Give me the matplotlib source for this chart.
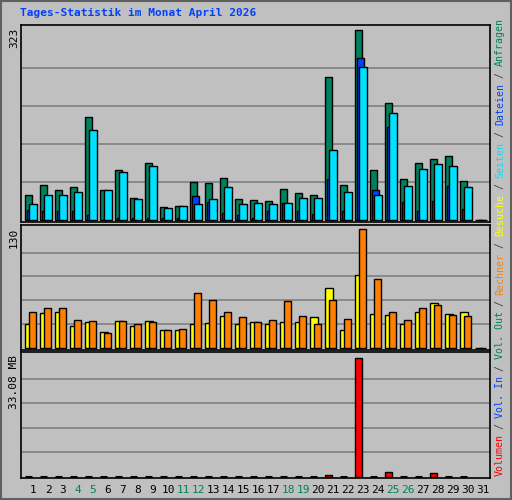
import matplotlib
matplotlib.use("Agg")
import matplotlib.pyplot as plt
import numpy as np

days = list(range(1, 32))
anfragen = [42,59,50,55,175,50,84,37,96,21,23,64,62,70,35,33,32,52,45,42,243,59,322,84,199,69,96,104,109,65,0]
dateien  = [17,14,15,14,8,0,3,3,3,3,3,40,30,12,8,3,15,28,15,10,69,15,275,50,158,30,14,32,57,18,0]
seiten   = [27,42,42,47,153,50,81,35,92,20,23,26,35,55,26,28,26,28,37,37,118,47,260,42,182,57,86,94,92,55,0]
besuche  = [26,38,39,24,28,18,29,24,30,20,20,26,27,35,26,28,26,28,28,34,65,20,80,37,36,26,39,49,37,39,0]
rechner  = [39,44,44,31,29,17,29,26,28,20,21,60,52,39,34,28,31,51,35,26,52,32,130,75,39,31,44,47,36,35,0]
volumen  = [0,0,0,0,0,0,0,0,0,0,0,0,0,0,0,0,0,0,0,0,0.63,0,32.0,0,1.25,0,0,1.0,0,0,0]
weekend = {4,5,11,12,18,19,25,26}
max_hits, max_visits, max_vol = 323, 130, 33.08

BG = "#c0c0c0"
GREEN, BLUE, CYAN = "#00805c", "#0040ff", "#00e0ff"
YEL, ORA, RED = "#ffff00", "#ff8000", "#ff0000"
MONO = "DejaVu Sans Mono"

fig = plt.figure(figsize=(5.12, 5.0), dpi=100, facecolor=BG)
W, H = 512, 500
def ax_at(top, bot):
    a = fig.add_axes([21/W, 1-bot/H, (490-21)/W, (bot-top)/H])
    a.set_facecolor(BG)
    a.set_xlim(0.2, 0.2 + 469/15)
    a.set_xticks([]); a.set_yticks([])
    for s in a.spines.values():
        s.set_color("black"); s.set_linewidth(1.2)
    return a

x = np.array(days, dtype=float)
kw = dict(align="edge", edgecolor="black", linewidth=1.0)

a1 = ax_at(25, 222)
a1.set_ylim(-4, max_hits*1.025)
for k in range(1, 5):
    a1.axhline(max_hits*k/5, color="#808080", lw=1.2, zorder=0)
a1.bar(x-0.53, anfragen, 0.48, color=GREEN, **kw)
a1.bar(x-0.40, dateien, 0.47, color=BLUE, **kw)
a1.bar(x-0.25, seiten, 0.5, color=CYAN, **kw)

a2 = ax_at(225, 350)
a2.set_ylim(-2, max_visits*1.03)
for k in range(1, 5):
    a2.axhline(max_visits*k/5, color="#808080", lw=1.2, zorder=0)
a2.bar(x-0.53, besuche, 0.5, color=YEL, **kw)
a2.bar(x-0.27, rechner, 0.5, color=ORA, **kw)

a3 = ax_at(352, 478)
a3.set_ylim(-0.3, max_vol*1.02)
for k in range(1, 5):
    a3.axhline(max_vol*k/5, color="#808080", lw=1.2, zorder=0)
for d, v in zip(days[:30], volumen[:30]):
    if v > 0:
        a3.bar(d-0.53, v, 0.48, color=RED, **kw)
    else:
        a3.plot([d-0.53, d-0.05], [0.05, 0.05], color="black", lw=2.2, solid_capstyle="butt")

# x labels
for d in days:
    fig.text((33 + (d-1)*15)/W, 1-490/H, str(d), ha="center", va="center",
             family=MONO, fontsize=8, color=GREEN if d in weekend else "black")

# left labels
fig.text(14/W, 1-28/H, str(max_hits), rotation=90, ha="center", va="top", family=MONO, fontsize=8)
fig.text(14/W, 1-228/H, str(max_visits), rotation=90, ha="center", va="top", family=MONO, fontsize=8)
fig.text(14/W, 1-355/H, "%.2f MB" % max_vol, rotation=90, ha="center", va="top", family=MONO, fontsize=8)

# title
fig.text(20/W, 1-13/H, "Tages-Statistik im Monat April 2026", ha="left", va="center",
         family=MONO, fontsize=8, fontweight="bold", color=BLUE)

# right legend, vertical
segs = [("Volumen", RED), (" / ", "#404040"), ("Vol. In", BLUE), (" / ", "#404040"),
        ("Vol. Out", GREEN), (" / ", "#404040"), ("Rechner", ORA), (" / ", "#404040"),
        ("Besuche", YEL), (" / ", "#404040"), ("Seiten", CYAN), (" / ", "#404040"),
        ("Dateien", BLUE), (" / ", "#404040"), ("Anfragen", GREEN)]
pos = 0
cpx = 5.85
for s, c in segs:
    fig.text(500/W, 1-(476 - pos*cpx)/H, s, rotation=90, rotation_mode="anchor",
             ha="left", va="center", family=MONO, fontsize=7.1, color=c)
    pos += len(s)

# outer frame
fig.patches.append(plt.Rectangle((1/W, 1/H), 1-2/W, 1-2/H, transform=fig.transFigure,
                                 fill=False, edgecolor="#606060", lw=1.5))
fig.savefig("out.png", dpi=100, facecolor=BG)
